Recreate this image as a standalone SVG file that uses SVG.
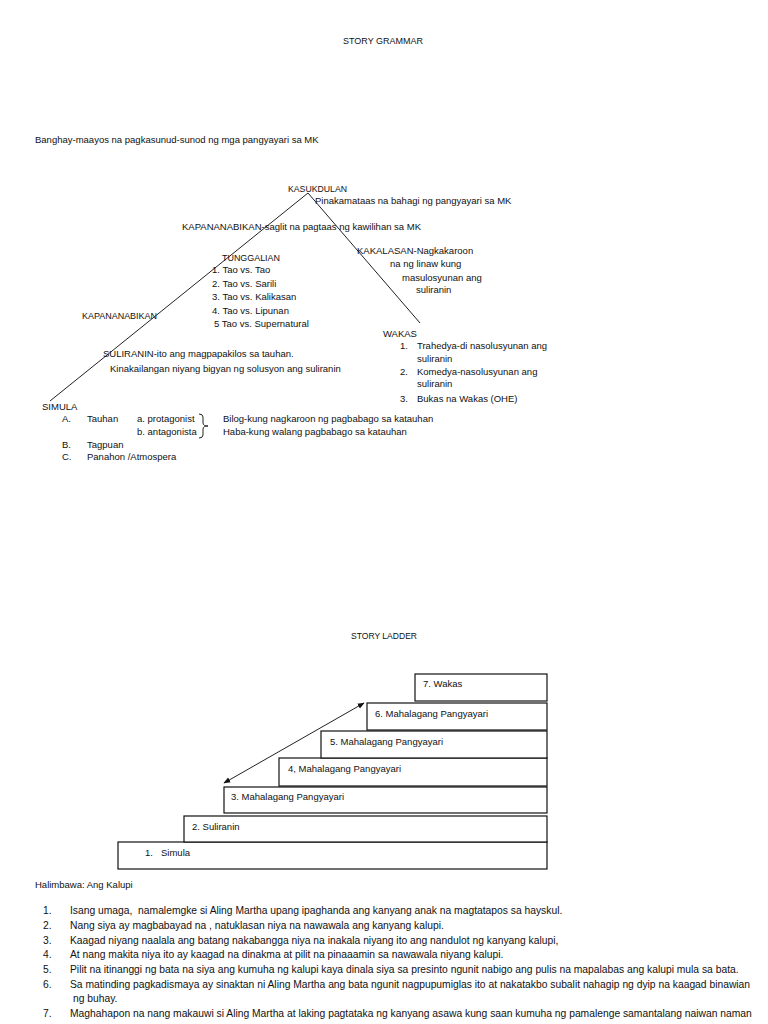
<svg xmlns="http://www.w3.org/2000/svg" width="768" height="1024" viewBox="0 0 768 1024">
<defs>
<style>
text{font-family:"Liberation Sans",Arial,sans-serif;font-size:9.5px;fill:#111}
.list text{font-size:10.3px}
.ln{stroke:#222;stroke-width:1;fill:none}
.box{fill:#fff;stroke:#111;stroke-width:1.2}
.pre{white-space:pre}
</style>
<marker id="ah" viewBox="0 0 10 10" refX="9" refY="5" markerWidth="7" markerHeight="7" orient="auto-start-reverse" markerUnits="userSpaceOnUse">
<path d="M0,1 L10,5 L0,9 Z" fill="#111"/>
</marker>
</defs>
<rect width="768" height="1024" fill="#fff"/>

<g id="title-grammar"><text x="343" y="44" textLength="80" lengthAdjust="spacingAndGlyphs">STORY GRAMMAR</text></g>
<g id="banghay"><text x="35" y="143">Banghay-maayos na pagkasunud-sunod ng mga pangyayari sa MK</text></g>

<g id="connectors">
<line class="ln" x1="50" y1="401" x2="308" y2="193"/>
<line class="ln" x1="308" y1="193" x2="420" y2="323"/>
<line class="ln" x1="224" y1="783" x2="364" y2="703" marker-start="url(#ah)" marker-end="url(#ah)"/>
</g>

<g id="kasukdulan">
<text x="288" y="192" textLength="59" lengthAdjust="spacingAndGlyphs">KASUKDULAN</text>
<text x="315" y="204">Pinakamataas na bahagi ng pangyayari sa MK</text>
</g>
<g id="kapananabikan-top"><text x="182" y="230">KAPANANABIKAN-saglit na pagtaas ng kawilihan sa MK</text></g>
<g id="tunggalian">
<text x="222" y="261" textLength="58" lengthAdjust="spacingAndGlyphs">TUNGGALIAN</text>
<text x="212" y="273">1. Tao vs. Tao</text>
<text x="212" y="287">2. Tao vs. Sarili</text>
<text x="212" y="300">3. Tao vs. Kalikasan</text>
<text x="212" y="314">4. Tao vs. Lipunan</text>
<text x="214" y="327">5 Tao vs. Supernatural</text>
</g>
<g id="kapananabikan-left"><text x="82" y="319" textLength="75" lengthAdjust="spacingAndGlyphs">KAPANANABIKAN</text></g>
<g id="kakalasan">
<text x="357" y="254">KAKALASAN-Nagkakaroon</text>
<text x="390" y="267">na ng linaw kung</text>
<text x="402" y="281">masulosyunan ang</text>
<text x="416" y="293">suliranin</text>
</g>
<g id="wakas">
<text x="383" y="337">WAKAS</text>
<text x="400" y="349">1.</text><text x="417" y="349">Trahedya-di nasolusyunan ang</text>
<text x="417" y="362">suliranin</text>
<text x="400" y="375">2.</text><text x="417" y="375">Komedya-nasolusyunan ang</text>
<text x="417" y="387">suliranin</text>
<text x="400" y="402">3.</text><text x="417" y="402">Bukas na Wakas (OHE)</text>
</g>
<g id="suliranin">
<text x="103" y="357">SULIRANIN-ito ang magpapakilos sa tauhan.</text>
<text x="110" y="372">Kinakailangan niyang bigyan ng solusyon ang suliranin</text>
</g>
<g id="simula">
<text x="42" y="410">SIMULA</text>
<text x="62" y="422">A.</text><text x="87" y="422">Tauhan</text>
<text x="137" y="422">a. protagonist</text>
<text x="137" y="435">b. antagonista</text>
<path class="ln" d="M199,414 Q203,414 203,417 L203,423 Q203,426 208,426 Q203,426 203,429 L203,435 Q203,438 199,438"/>
<text x="223" y="422">Bilog-kung nagkaroon ng pagbabago sa katauhan</text>
<text x="223" y="435">Haba-kung walang pagbabago sa katauhan</text>
<text x="62" y="448">B.</text><text x="87" y="448">Tagpuan</text>
<text x="62" y="460">C.</text><text x="87" y="460">Panahon /Atmospera</text>
</g>

<g id="title-ladder"><text x="351" y="639" textLength="66" lengthAdjust="spacingAndGlyphs">STORY LADDER</text></g>
<g id="step1"><rect class="box" x="118" y="842" width="429" height="27"/><text x="145" y="856">1.</text><text x="161" y="856">Simula</text></g>
<g id="step2"><rect class="box" x="184" y="816" width="363" height="26"/><text x="192" y="830">2. Suliranin</text></g>
<g id="step3"><rect class="box" x="224" y="787" width="323" height="26"/><text x="231" y="800">3. Mahalagang Pangyayari</text></g>
<g id="step4"><rect class="box" x="279" y="758" width="268" height="28"/><text x="288" y="772">4, Mahalagang Pangyayari</text></g>
<g id="step5"><rect class="box" x="321" y="731" width="226" height="27"/><text x="330" y="745">5. Mahalagang Pangyayari</text></g>
<g id="step6"><rect class="box" x="367" y="703" width="180" height="27"/><text x="375" y="717">6. Mahalagang Pangyayari</text></g>
<g id="step7"><rect class="box" x="415" y="674" width="132" height="27"/><text x="423" y="687">7. Wakas</text></g>

<g id="halimbawa">
<text x="35" y="888">Halimbawa: Ang Kalupi</text>
<g class="list">
<text x="43" y="914">1.</text><text x="70" y="914" class="pre">Isang umaga,  namalemgke si Aling Martha upang ipaghanda ang kanyang anak na magtatapos sa hayskul.</text>
<text x="43" y="929">2.</text><text x="70" y="929">Nang siya ay magbabayad na , natuklasan niya na nawawala ang kanyang kalupi.</text>
<text x="43" y="944">3.</text><text x="70" y="944">Kaagad niyang naalala ang batang nakabangga niya na inakala niyang ito ang nandulot ng kanyang kalupi,</text>
<text x="43" y="958">4.</text><text x="70" y="958">At nang makita niya ito ay kaagad na dinakma at pilit na pinaaamin sa nawawala niyang kalupi.</text>
<text x="43" y="973">5.</text><text x="70" y="973">Pilit na itinanggi ng bata na siya ang kumuha ng kalupi kaya dinala siya sa presinto ngunit nabigo ang pulis na mapalabas ang kalupi mula sa bata.</text>
<text x="43" y="988">6.</text><text x="70" y="988">Sa matinding pagkadismaya ay sinaktan ni Aling Martha ang bata ngunit nagpupumiglas ito at nakatakbo subalit nahagip ng dyip na kaagad binawian</text>
<text x="73" y="1002">ng buhay.</text>
<text x="43" y="1017">7.</text><text x="70" y="1017">Maghahapon na nang makauwi si Aling Martha at laking pagtataka ng kanyang asawa kung saan kumuha ng pamalenge samantalang naiwan naman</text>
</g>
</g>
</svg>
